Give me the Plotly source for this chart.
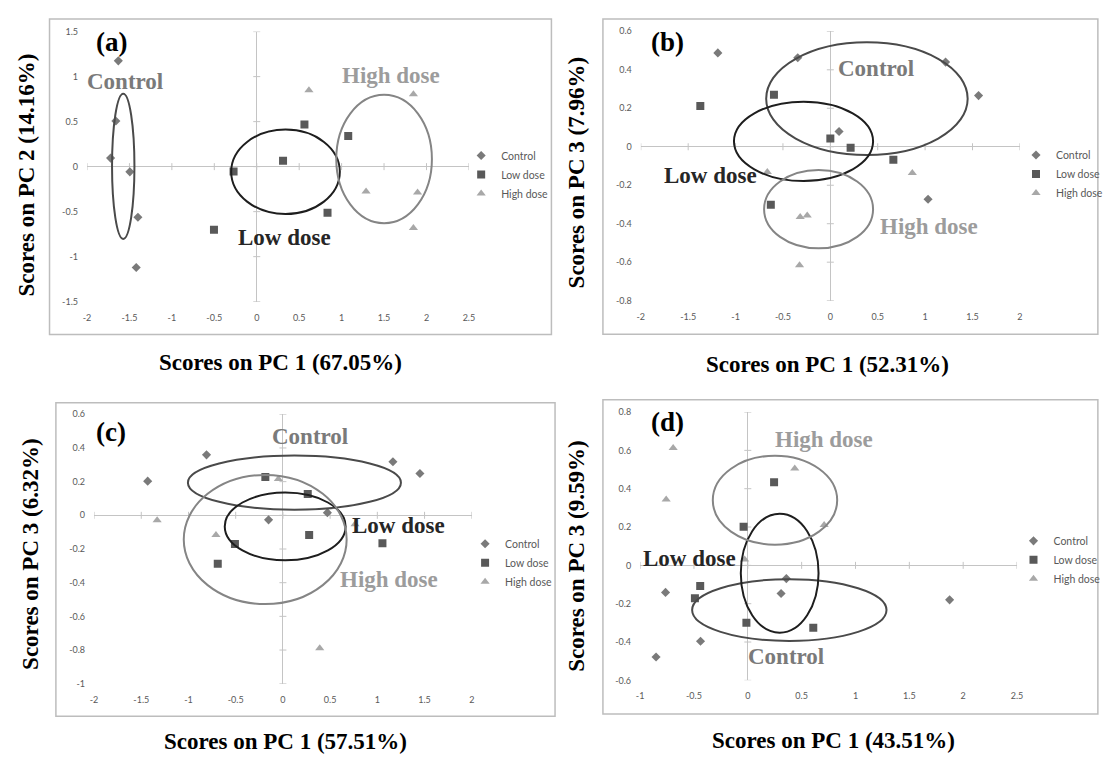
import plotly.graph_objects as go

W, H = 1108, 758

# ---------------- shared labels ----------------
groups = ["Control", "Low dose", "High dose"]
x_titles = ["Scores on PC 1 (67.05%)", "Scores on PC 1 (52.31%)",
            "Scores on PC 1 (57.51%)", "Scores on PC 1 (43.51%)"]
y_titles = ["Scores on PC 2 (14.16%)", "Scores on PC 3 (7.96%)",
            "Scores on PC 3 (6.32%)", "Scores on PC 3 (9.59%)"]
panel_tags = ["(a)", "(b)", "(c)", "(d)"]

# ---------------- (a) PC1 vs PC2 ----------------
a_ctrl_x = [-1.631, -1.660, -1.722, -1.495, -1.400, -1.420]
a_ctrl_y = [1.175, 0.507, 0.095, -0.058, -0.562, -1.120]
a_low_x = [-0.504, -0.273, 0.310, 0.562, 0.834, 1.078]
a_low_y = [-0.701, -0.055, 0.066, 0.467, -0.511, 0.339]
a_high_x = [0.615, 1.846, 1.288, 1.895, 1.846]
a_high_y = [0.850, 0.803, -0.277, -0.288, -0.682]
a_xticks = [-2, -1.5, -1, -0.5, 0, 0.5, 1, 1.5, 2, 2.5]
a_xlabels = ["-2", "-1.5", "-1", "-0.5", "0", "0.5", "1", "1.5", "2", "2.5"]
a_yticks = [-1.5, -1, -0.5, 0, 0.5, 1, 1.5]
a_ylabels = ["-1.5", "-1", "-0.5", "0", "0.5", "1", "1.5"]
# group ellipses as [x_min, x_max, y_min, y_max]
a_ell_ctrl = [-1.705, -1.441, -0.803, 0.810]
a_ell_low = [-0.301, 0.979, -0.526, 0.412]
a_ell_high = [0.937, 2.064, -0.628, 0.799]

# ---------------- (b) PC1 vs PC3 ----------------
b_ctrl_x = [-1.187, -0.344, 1.216, 1.564, 0.092, 1.031]
b_ctrl_y = [0.488, 0.463, 0.440, 0.266, 0.079, -0.273]
b_low_x = [-1.372, -0.595, 0.000, 0.214, 0.665, -0.628]
b_low_y = [0.212, 0.270, 0.043, -0.005, -0.068, -0.302]
b_high_x = [-0.665, 0.865, -0.318, -0.244, -0.325]
b_high_y = [-0.131, -0.137, -0.365, -0.357, -0.616]
b_xticks = [-2, -1.5, -1, -0.5, 0, 0.5, 1, 1.5, 2]
b_xlabels = ["-2", "-1.5", "-1", "-0.5", "0", "0.5", "1", "1.5", "2"]
b_yticks = [-0.8, -0.6, -0.4, -0.2, 0, 0.2, 0.4, 0.6]
b_ylabels = ["-0.8", "-0.6", "-0.4", "-0.2", "0", "0.2", "0.4", "0.6"]
b_ell_ctrl = [-0.677, 1.449, -0.043, 0.543]
b_ell_low = [-1.017, 0.451, -0.178, 0.234]
b_ell_high = [-0.699, 0.451, -0.528, -0.121]

# ---------------- (c) PC1 vs PC3 ----------------
c_ctrl_x = [-1.432, -0.809, -0.152, 0.471, 1.165, 1.451]
c_ctrl_y = [0.203, 0.359, -0.027, 0.016, 0.318, 0.248]
c_low_x = [-0.186, 0.263, -0.508, -0.690, 0.278, 1.054]
c_low_y = [0.228, 0.127, -0.170, -0.287, -0.117, -0.166]
c_high_x = [-1.332, -0.709, -0.048, 0.390, 0.764]
c_high_y = [-0.029, -0.117, 0.215, -0.790, -0.053]
c_xticks = [-2, -1.5, -1, -0.5, 0, 0.5, 1, 1.5, 2]
c_xlabels = ["-2", "-1.5", "-1", "-0.5", "0", "0.5", "1", "1.5", "2"]
c_yticks = [-1, -0.8, -0.6, -0.4, -0.2, 0, 0.2, 0.4, 0.6]
c_ylabels = ["-1", "-0.8", "-0.6", "-0.4", "-0.2", "0", "0.2", "0.4", "0.6"]
c_ell_ctrl = [-1.006, 1.250, 0.033, 0.355]
c_ell_low = [-0.616, 0.664, -0.267, 0.135]
c_ell_high = [-1.050, 0.675, -0.527, 0.240]

# ---------------- (d) PC1 vs PC3 ----------------
d_ctrl_x = [-0.764, -0.852, -0.439, 0.309, 0.358, 1.874]
d_ctrl_y = [-0.141, -0.478, -0.396, -0.147, -0.069, -0.180]
d_low_x = [0.244, -0.039, -0.442, -0.491, -0.013, 0.608]
d_low_y = [0.434, 0.202, -0.108, -0.171, -0.300, -0.326]
d_high_x = [-0.693, -0.758, 0.436, 0.709, -0.029]
d_high_y = [0.612, 0.344, 0.505, 0.211, 0.031]
d_xticks = [-1, -0.5, 0, 0.5, 1, 1.5, 2, 2.5]
d_xlabels = ["-1", "-0.5", "0", "0.5", "1", "1.5", "2", "2.5"]
d_yticks = [-0.6, -0.4, -0.2, 0, 0.2, 0.4, 0.6, 0.8]
d_ylabels = ["-0.6", "-0.4", "-0.2", "0", "0.2", "0.4", "0.6", "0.8"]
d_ell_ctrl = [-0.517, 1.288, -0.394, -0.072]
d_ell_low = [-0.065, 0.657, -0.351, 0.269]
d_ell_high = [-0.325, 0.830, 0.108, 0.572]

# ---------------- styling ----------------
SERIF = "Liberation Serif, Times New Roman, serif"
SANS = "Lato, Calibri, sans-serif"
marker_style = {
    "Control": dict(symbol="diamond", size=7, color="#7a7a7a"),
    "Low dose": dict(symbol="square", size=8, color="#595959"),
    "High dose": dict(symbol="triangle-up", size=8, color="#a8a8a8"),
}
ellipse_color = {"Control": "#4a4a4a", "Low dose": "#1e1e1e", "High dose": "#858585"}
label_color = {"Control": "#7a7a7a", "Low dose": "#262626", "High dose": "#9c9c9c"}


def px_x(p):
    return p / W


def px_y(p):
    return 1 - p / H


def bold(s):
    return "<b>" + s + "</b>"


panels = [
    dict(series={"Control": (a_ctrl_x, a_ctrl_y), "Low dose": (a_low_x, a_low_y),
                 "High dose": (a_high_x, a_high_y)},
         xticks=(a_xticks, a_xlabels), yticks=(a_yticks, a_ylabels),
         xrange=[-2, 2.5], yrange=[-1.5, 1.5],
         xdom=[84.6, 473.9], ydom=[26.0, 300.0],
         frame=[46.4, 558.0, 13.3, 333.3],
         ellipses={"Control": a_ell_ctrl, "Low dose": a_ell_low, "High dose": a_ell_high},
         labels={"Control": (-1.553, 0.942), "Low dose": (0.325, -0.785),
                 "High dose": (1.585, 1.014)},
         tag=(-1.711, 1.38),
         xtitle=(282.1, 361.7), ytitle=(23.2, 171.3),
         legend=(466.0, 137.0)),
    dict(series={"Control": (b_ctrl_x, b_ctrl_y), "Low dose": (b_low_x, b_low_y),
                 "High dose": (b_high_x, b_high_y)},
         xticks=(b_xticks, b_xlabels), yticks=(b_yticks, b_ylabels),
         xrange=[-2, 2], yrange=[-0.8, 0.6],
         xdom=[649.1, 1035.5], ydom=[25.7, 299.0],
         frame=[610.5, 1115.0, 13.3, 333.0],
         ellipses={"Control": b_ell_ctrl, "Low dose": b_ell_low, "High dose": b_ell_high},
         labels={"Control": (0.487, 0.407), "Low dose": (-1.26, -0.152),
                 "High dose": (1.037, -0.414)},
         tag=(-1.714, 0.544),
         xtitle=(839.4, 363.3), ytitle=(583.7, 169.2),
         legend=(1032.0, 136.5)),
    dict(series={"Control": (c_ctrl_x, c_ctrl_y), "Low dose": (c_low_x, c_low_y),
                 "High dose": (c_high_x, c_high_y)},
         xticks=(c_xticks, c_xlabels), yticks=(c_yticks, c_ylabels),
         xrange=[-2, 2], yrange=[-1, 0.6],
         xdom=[91.8, 476.8], ydom=[414.3, 687.7],
         frame=[52.9, 561.7, 402.7, 720.7],
         ellipses={"Control": c_ell_ctrl, "Low dose": c_ell_low, "High dose": c_ell_high},
         labels={"Control": (0.286, 0.468), "Low dose": (1.221, -0.059),
                 "High dose": (1.122, -0.384)},
         tag=(-1.822, 0.492),
         xtitle=(287.1, 746.7), ytitle=(26.8, 556.7),
         legend=(470.0, 531.0)),
    dict(series={"Control": (d_ctrl_x, d_ctrl_y), "Low dose": (d_low_x, d_low_y),
                 "High dose": (d_high_x, d_high_y)},
         xticks=(d_xticks, d_xlabels), yticks=(d_yticks, d_ylabels),
         xrange=[-1, 2.5], yrange=[-0.6, 0.8],
         xdom=[648.4, 1032.6], ydom=[412.0, 684.3],
         frame=[610.5, 1115.0, 399.5, 718.3],
         ellipses={"Control": d_ell_ctrl, "Low dose": d_ell_low, "High dose": d_ell_high},
         labels={"Control": (0.351, -0.475), "Low dose": (-0.542, 0.036),
                 "High dose": (0.712, 0.656)},
         tag=(-0.747, 0.747),
         xtitle=(845.1, 745.0), ytitle=(583.7, 558.3),
         legend=(1029.0, 528.0)),
]

fig = go.Figure()
shapes, annotations, layout_axes, legends = [], [], {}, {}

for i, p in enumerate(panels, start=1):
    sfx = "" if i == 1 else str(i)
    xref, yref = "x" + sfx, "y" + sfx
    leg = "legend" + sfx
    xt, xl = p["xticks"]
    yt, yl = p["yticks"]

    # small tick marks sitting on the crossing axis lines
    fig.add_trace(go.Scatter(
        x=xt, y=[0] * len(xt), mode="markers", xaxis=xref, yaxis=yref,
        marker=dict(symbol="line-ns", size=5, line=dict(width=1, color="#c4c4c4")),
        showlegend=False, hoverinfo="skip"))
    fig.add_trace(go.Scatter(
        x=[0] * len(yt), y=yt, mode="markers", xaxis=xref, yaxis=yref,
        marker=dict(symbol="line-ew", size=5, line=dict(width=1, color="#c4c4c4")),
        showlegend=False, hoverinfo="skip"))

    for g in groups:
        gx, gy = p["series"][g]
        fig.add_trace(go.Scatter(
            x=gx, y=gy, mode="markers", name=g, xaxis=xref, yaxis=yref,
            legend=leg, marker=marker_style[g]))

    for g in groups:
        x0, x1, y0, y1 = p["ellipses"][g]
        shapes.append(dict(type="circle", xref=xref, yref=yref,
                           x0=x0, x1=x1, y0=y0, y1=y1,
                           line=dict(color=ellipse_color[g], width=2), layer="above"))
        lx, ly = p["labels"][g]
        annotations.append(dict(x=lx, y=ly, xref=xref, yref=yref, text=bold(g),
                                showarrow=False, xanchor="center", yanchor="middle",
                                font=dict(family=SERIF, size=23, color=label_color[g])))

    tx, ty = p["tag"]
    annotations.append(dict(x=tx, y=ty, xref=xref, yref=yref, text=bold(panel_tags[i - 1]),
                            showarrow=False, xanchor="center", yanchor="middle",
                            font=dict(family=SERIF, size=27, color="#000000")))

    fx0, fx1, fy0, fy1 = p["frame"]
    shapes.append(dict(type="rect", xref="paper", yref="paper",
                       x0=px_x(fx0), x1=px_x(fx1), y0=px_y(fy1), y1=px_y(fy0),
                       line=dict(color="#bdbdbd", width=1.5)))

    cx, cy = p["xtitle"]
    annotations.append(dict(x=px_x(cx), y=px_y(cy), xref="paper", yref="paper",
                            text=bold(x_titles[i - 1]), showarrow=False,
                            xanchor="center", yanchor="middle",
                            font=dict(family=SERIF, size=23, color="#000000")))
    cx, cy = p["ytitle"]
    annotations.append(dict(x=px_x(cx), y=px_y(cy), xref="paper", yref="paper",
                            text=bold(y_titles[i - 1]), showarrow=False, textangle=-90,
                            xanchor="center", yanchor="middle",
                            font=dict(family=SERIF, size=23, color="#000000")))

    tickfont = dict(family=SANS, size=9, color="#595959")
    layout_axes["xaxis" + sfx] = dict(
        domain=[px_x(p["xdom"][0]), px_x(p["xdom"][1])], range=p["xrange"],
        anchor=yref, tickvals=xt, ticktext=xl, tickfont=tickfont,
        showgrid=False, showline=False, ticks="", ticklabelstandoff=9,
        zeroline=True, zerolinecolor="#c4c4c4", zerolinewidth=1, fixedrange=True)
    layout_axes["yaxis" + sfx] = dict(
        domain=[px_y(p["ydom"][1]), px_y(p["ydom"][0])], range=p["yrange"],
        anchor=xref, tickvals=yt, ticktext=yl, tickfont=tickfont,
        showgrid=False, showline=False, ticks="", ticklabelstandoff=8,
        zeroline=True, zerolinecolor="#c4c4c4", zerolinewidth=1, fixedrange=True)

    lx, ly = p["legend"]
    legends[leg] = dict(x=px_x(lx), y=px_y(ly), xanchor="left", yanchor="top",
                        xref="paper", yref="paper", bgcolor="rgba(0,0,0,0)",
                        font=dict(family=SANS, size=10.5, color="#595959"),
                        itemwidth=30, tracegroupgap=0)

fig.update_layout(
    width=W, height=H, margin=dict(l=0, r=0, t=0, b=0),
    paper_bgcolor="#ffffff", plot_bgcolor="#ffffff",
    shapes=shapes, annotations=annotations, showlegend=True,
    **layout_axes, **legends)

fig.write_html("out.html")
